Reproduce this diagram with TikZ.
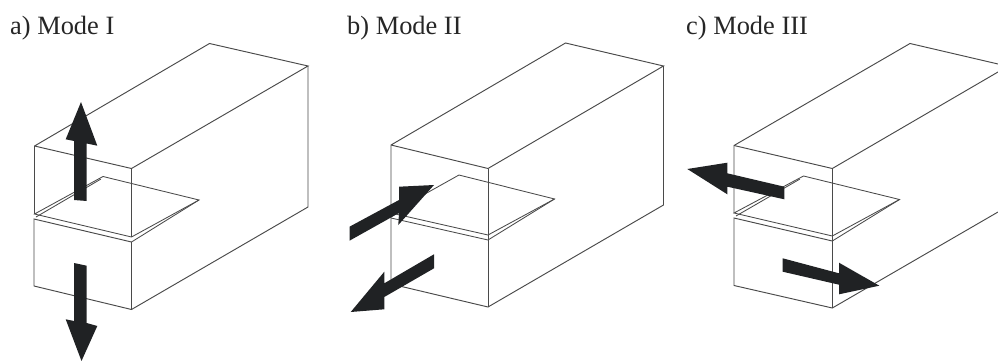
\documentclass[tikz,border=0pt]{standalone}
\usepackage{fontspec}
\setmainfont{Liberation Serif}
\definecolor{inkline}{HTML}{4A4A4A}
\definecolor{inkfill}{HTML}{202224}
\tikzset{
  edgeline/.style={draw=inkline,line width=0.95pt,line join=miter},
  crackline/.style={draw=inkline,line width=0.85pt},
  force/.style={fill=inkfill,draw=none},
  title/.style={anchor=base west,inner sep=0pt,font=\fontsize{26.4}{30}\selectfont,text=black!85}
}
\begin{document}
\begin{tikzpicture}[x=1pt,y=-1pt]
\useasboundingbox (0,0) rectangle (998,361);
\node[title] (ta) at (10,35) {a) Mode I};
\node[title] (tb) at (347,35) {b) Mode II};
\node[title] (tc) at (686,35) {c) Mode III};
% a
\draw[edgeline] (34.5,214) -- (34.5,146) -- (209.5,43.5) -- (308,66) -- (131.5,168.5) -- (34.5,146);
\draw[edgeline] (131.5,168.5) -- (131.5,237);
\draw[edgeline] (308,66) -- (308,207) -- (131.5,309.5) -- (34,286) -- (34,219) -- (131.5,242) -- (131.5,309.5);
\draw[crackline] (34.5,214) -- (103,176.5) -- (199,200) -- (131.5,237) -- cycle;
\draw[crackline] (36,217) -- (101,179);
\draw[crackline] (131.5,242) -- (199,200);
\draw[force] (81,102) -- (97.3,145.7) -- (86.7,143.5) -- (86.7,201) -- (74,200) -- (74,141) -- (65.7,139.3) -- cycle;
\draw[force] (74,263) -- (86.7,265.7) -- (86.7,323) -- (97.3,326) -- (81.5,361) -- (65.7,319.3) -- (74,321) -- cycle;
% b
\draw[edgeline] (391,284) -- (391,145) -- (565.5,43) -- (663.5,66) -- (488,168.5) -- (391,145);
\draw[edgeline] (488,168.5) -- (488,307);
\draw[edgeline] (663.5,66) -- (663.5,205) -- (488,307) -- (391,284);
\draw[crackline] (391,213) -- (459,175) -- (554.5,199) -- (488,235) -- cycle;
\draw[crackline] (391,218) -- (488,240) -- (554.5,199);
\draw[force] (349.5,226.7) -- (399,200) -- (399,186.7) -- (434,185) -- (398.3,225) -- (399,213) -- (349.5,240.7) -- cycle;
\draw[force] (434,254.3) -- (434,268.3) -- (384.3,297) -- (384.3,309.3) -- (350.7,312) -- (384.3,271.7) -- (384.3,283.3) -- cycle;
% c
\draw[edgeline] (734,213) -- (734,145.5) -- (910,43.5) -- (998,64);
\draw[edgeline] (734,145.5) -- (832.3,168.5) -- (998,72);
\draw[edgeline] (832.3,168.5) -- (832.3,308);
\draw[edgeline] (998,212) -- (832.3,308) -- (734,285.5) -- (734,218) -- (832.3,241);
\draw[crackline] (734,213) -- (803.5,176) -- (899.5,199.5) -- (832.3,236) -- cycle;
\draw[crackline] (736,216) -- (800,179);
\draw[crackline] (832.3,241) -- (899.5,199.5);
\draw[force] (687.3,169) -- (727.3,162.7) -- (727.3,173.3) -- (784.3,186.7) -- (784.3,199.3) -- (727.3,186.7) -- (727.3,194.3) -- cycle;
\draw[force] (782.7,258.3) -- (839,273.3) -- (839,262.7) -- (879.3,285.7) -- (839,294.3) -- (839,284.7) -- (782.7,271.7) -- cycle;
\end{tikzpicture}
\end{document}
